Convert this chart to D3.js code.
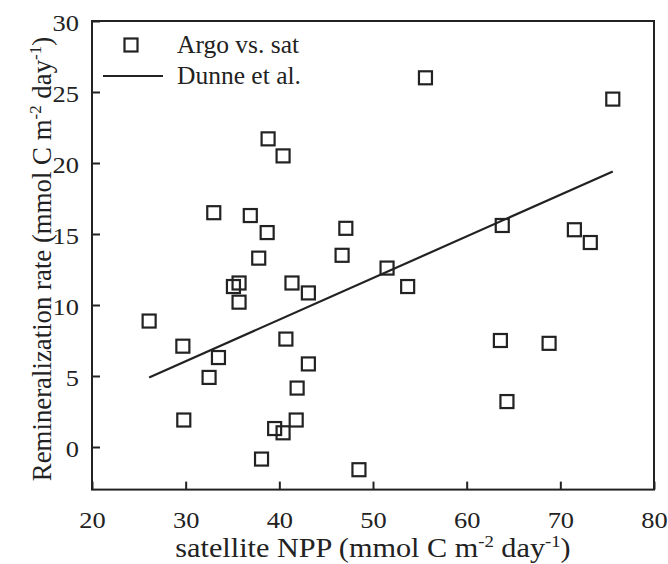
<!DOCTYPE html>
<html><head><meta charset="utf-8">
<script src="https://cdn.jsdelivr.net/npm/d3@7"></script>
<style>body{margin:0;background:#fff}svg{display:block}text{font-family:"Liberation Serif","Times New Roman",serif;fill:#222}</style>
</head><body><svg id="c" width="668" height="564"></svg>
<script>
const npp = [26.1,29.7,29.8,33.0,33.5,32.5,35.1,35.7,35.7,36.9,37.8,38.7,38.8,38.1,39.5,40.4,40.4,40.7,41.35,41.9,41.8,43.1,43.1,48.5,46.7,47.1,51.5,53.7,55.6,63.8,63.6,64.3,68.8,71.5,73.2,75.6];
const remin = [8.87,7.1,1.9,16.5,6.3,4.9,11.3,11.55,10.2,16.3,13.3,15.1,21.7,-0.85,1.3,1.0,20.5,7.6,11.55,4.15,1.9,10.85,5.85,-1.6,13.5,15.4,12.6,11.3,26.0,15.6,7.5,3.2,7.3,15.3,14.4,24.5];
const dunneX = [26.1,75.6];
const dunneY = [4.9,19.4];
const xTicks = [20,30,40,50,60,70,80];
const yTicks = [0,5,10,15,20,25,30];
const legendLabels = ["Argo vs. sat","Dunne et al."];

const svg = d3.select("#c");
const L=92,R=654,T=21,B=489.6;
const x = d3.scaleLinear().domain([20,80]).range([L,R]);
const y = d3.scaleLinear().domain([-3,30]).range([B,T]);
const ink="#222";

svg.append("rect").attr("x",L).attr("y",T).attr("width",R-L).attr("height",B-T)
  .attr("fill","none").attr("stroke",ink).attr("stroke-width",2);

const xa = svg.append("g").attr("transform",`translate(0,${B})`)
  .call(d3.axisBottom(x).tickValues(xTicks).tickSize(-8).tickPadding(0).tickFormat(d3.format("d")));
xa.select(".domain").remove();
xa.selectAll("line").attr("stroke",ink).attr("stroke-width",2);
xa.selectAll("text").attr("y",0).attr("dy",0).attr("transform","translate(0,38) scale(1.15,1)")
  .style("font-size","23px").attr("fill",ink);

const ya = svg.append("g").attr("transform",`translate(${L},0)`)
  .call(d3.axisLeft(y).tickValues(yTicks).tickSize(-8).tickFormat(d3.format("d")));
ya.select(".domain").remove();
ya.selectAll("line").attr("stroke",ink).attr("stroke-width",2);
ya.selectAll("text").attr("x",0).attr("dy","0.42em").attr("transform","translate(-13,0) scale(1.15,1)")
  .style("font-size","23px").attr("fill",ink);

// Dunne line
svg.append("path").datum(d3.zip(dunneX,dunneY))
  .attr("d",d3.line().x(d=>x(d[0])).y(d=>y(d[1])))
  .attr("fill","none").attr("stroke",ink).attr("stroke-width",2.2);

const s=13;
svg.append("g").selectAll("rect").data(d3.zip(npp,remin)).join("rect")
  .attr("x",d=>x(d[0])-s/2).attr("y",d=>y(d[1])-s/2).attr("width",s).attr("height",s)
  .attr("fill","none").attr("stroke",ink).attr("stroke-width",2.2);

// legend
svg.append("rect").attr("x",131-s/2).attr("y",45-s/2).attr("width",s).attr("height",s)
  .attr("fill","none").attr("stroke",ink).attr("stroke-width",2.2);
svg.append("line").attr("x1",103).attr("x2",163).attr("y1",76).attr("y2",76).attr("stroke",ink).attr("stroke-width",2.2);
svg.append("text").attr("x",177).attr("y",53).style("font-size","25.5px").text(legendLabels[0]);
svg.append("text").attr("x",177).attr("y",84).style("font-size","25.5px").text(legendLabels[1]);

// axis titles
const xt = svg.append("text").attr("transform",`translate(${(L+R)/2},557) scale(1.1,1)`).attr("text-anchor","middle").style("font-size","27.5px");
xt.append("tspan").text("satellite NPP (mmol C m");
xt.append("tspan").attr("dy",-10).style("font-size","17px").text("-2");
xt.append("tspan").attr("dy",10).text(" day");
xt.append("tspan").attr("dy",-10).style("font-size","17px").text("-1");
xt.append("tspan").attr("dy",10).text(")");

const yt = svg.append("text").attr("transform",`translate(51,259) rotate(-90)`).attr("text-anchor","middle").style("font-size","26.8px");
yt.append("tspan").text("Remineralization rate (mmol C m");
yt.append("tspan").attr("dy",-10).style("font-size","17px").text("-2");
yt.append("tspan").attr("dy",10).text(" day");
yt.append("tspan").attr("dy",-10).style("font-size","17px").text("-1");
yt.append("tspan").attr("dy",10).text(")");
</script></body></html>
